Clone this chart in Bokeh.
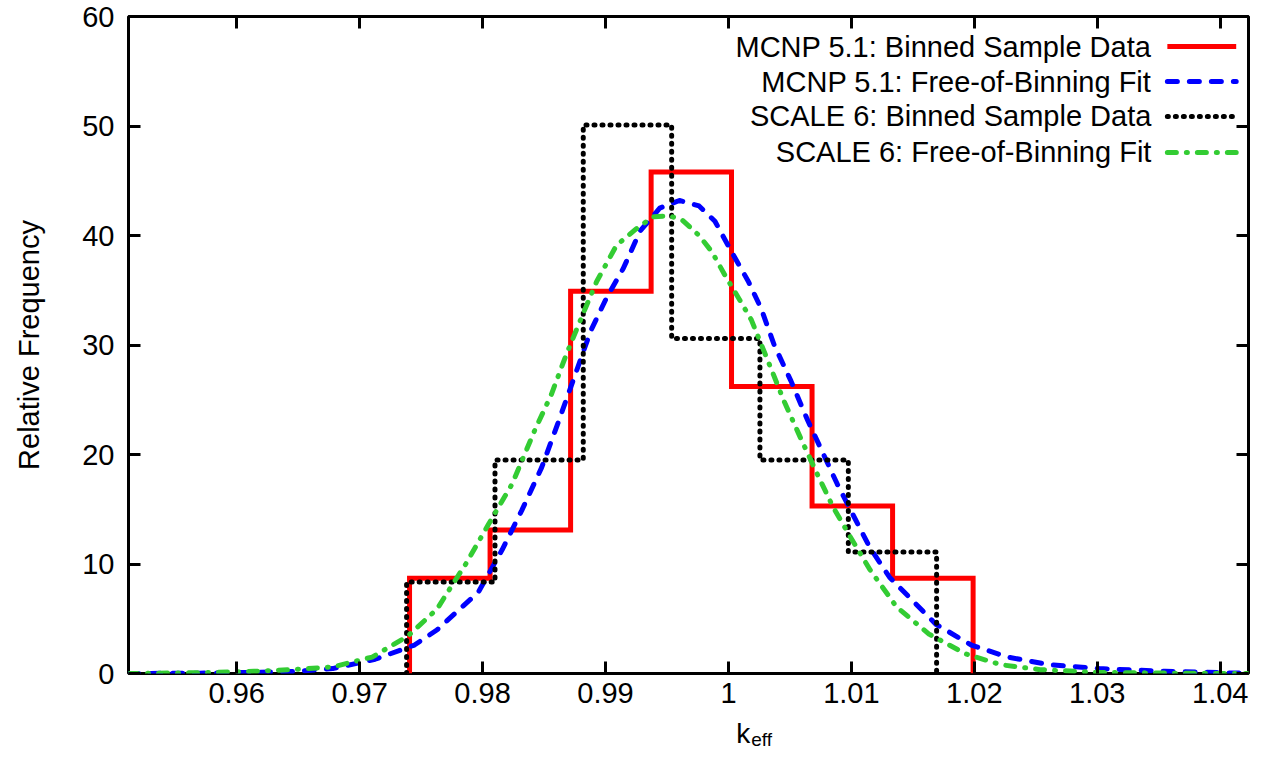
from bokeh.plotting import figure
from bokeh.layouts import column
from bokeh.models import (LinearAxis, FixedTicker, CustomJSTickFormatter, Range1d)
from bokeh.core.properties import value
from bokeh.embed import file_html
from bokeh.resources import INLINE

# ---------------- data ----------------
x_ticks = [0.96, 0.97, 0.98, 0.99, 1.00, 1.01, 1.02, 1.03, 1.04]
y_ticks = [0, 10, 20, 30, 40, 50, 60]

# MCNP 5.1 binned sample data (histogram)
mcnp_edges = [0.97406, 0.98061, 0.98716, 0.99371, 1.00025, 1.00680, 1.01335, 1.01990]
mcnp_freq = [8.7, 13.1, 34.9, 45.8, 26.2, 15.3, 8.7]

# SCALE 6 binned sample data (histogram)
scale_edges = [0.97382, 0.98101, 0.98819, 0.99538, 1.00256, 1.00975, 1.01693]
scale_freq = [8.35, 19.5, 50.1, 30.6, 19.5, 11.1]

# MCNP 5.1 free-of-binning fit
mcnp_fit_x = [0.9512, 0.9570, 0.9614, 0.96461, 0.96781, 0.97126, 0.97446, 0.97631,
              0.97967, 0.98159, 0.98319, 0.98480, 0.98608, 0.98744, 0.98880, 0.99008,
              0.99145, 0.99281, 0.99441, 0.99601, 0.99761, 0.99890, 1.00026, 1.00162,
              1.00267, 1.00372, 1.00509, 1.00645, 1.00749, 1.00885, 1.01013, 1.01150,
              1.01310, 1.01687, 1.01975, 1.02270, 1.02615, 1.03016, 1.03553, 1.04090,
              1.0423]
mcnp_fit_y = [0.0, 0.03, 0.1, 0.18, 0.45, 1.3, 2.6, 4.0,
              7.45, 11.3, 14.9, 18.8, 22.7, 27.0, 31.3, 34.3,
              37.0, 40.4, 42.5, 43.2, 42.7, 41.3, 38.5, 35.8,
              33.3, 30.0, 26.7, 23.1, 20.6, 17.3, 14.5, 11.5,
              8.8, 4.5, 2.6, 1.5, 0.8, 0.45, 0.2, 0.05,
              0.03]

# SCALE 6 free-of-binning fit
scale_fit_x = [0.9512, 0.9570, 0.96140, 0.96461, 0.96781, 0.97102, 0.97390, 0.97631,
               0.97703, 0.97863, 0.98047, 0.98240, 0.98424, 0.98560, 0.98680, 0.98808,
               0.98928, 0.99089, 0.99249, 0.99385, 0.99521, 0.99625, 0.99761, 0.99866,
               0.99970, 1.00082, 1.00186, 1.00323, 1.00451, 1.00587, 1.00723, 1.00851,
               1.00990, 1.01150, 1.01366, 1.01631, 1.01927, 1.02216, 1.02536, 1.03016,
               1.0371, 1.0423]
scale_fit_y = [0.0, 0.08, 0.2, 0.36, 0.6, 1.5, 3.4, 5.9,
               7.2, 10.0, 13.6, 17.3, 22.2, 25.5, 29.1, 32.6,
               35.8, 39.1, 40.6, 41.7, 41.8, 41.4, 40.0, 38.5,
               36.4, 34.3, 32.3, 28.5, 24.9, 21.5, 18.2, 15.2,
               12.5, 9.5, 6.1, 3.6, 1.8, 0.8, 0.35, 0.1,
               0.02, 0.0]

legend_labels = ["MCNP 5.1: Binned Sample Data",
                 "MCNP 5.1: Free-of-Binning Fit",
                 "SCALE 6: Binned Sample Data",
                 "SCALE 6: Free-of-Binning Fit"]

# ---------------- helpers ----------------
def steps(edges, freq):
    xs = [edges[0]]
    ys = [0.0]
    for i, f in enumerate(freq):
        xs += [edges[i], edges[i + 1]]
        ys += [f, f]
    xs.append(edges[-1])
    ys.append(0.0)
    return xs, ys

FONT = "Liberation Sans"
FS = "29px"
DOT = "1 7"
DASH = "10 12"
DASHDOT = "9 10 1 10"

W = 1250
H_MAIN = 716
H_LABEL = 34

p = figure(width=W, height=H_MAIN,
           x_range=Range1d(0.9512, 1.0423), y_range=Range1d(0, 60),
           output_backend="svg", toolbar_location=None,
           min_border_left=128, min_border_right=2,
           min_border_top=16, min_border_bottom=43)

p.xaxis.visible = False
p.yaxis.visible = False
p.grid.visible = False
p.outline_line_color = "black"
p.outline_line_width = 3
p.background_fill_color = "white"
p.border_fill_color = "white"

xfmt = CustomJSTickFormatter(code="return Number(tick.toFixed(4)).toString();")
blank = CustomJSTickFormatter(code="return '';")

def style_axis(ax, labels=True):
    ax.axis_line_color = None
    ax.major_tick_in = 12
    ax.major_tick_out = 0
    ax.major_tick_line_width = 3
    ax.major_tick_line_color = "black"
    ax.minor_tick_line_color = None
    ax.major_label_text_font = FONT
    ax.major_label_text_font_size = FS
    ax.major_label_text_color = "black"
    if not labels:
        ax.major_label_text_font_size = "1px"
        ax.major_label_standoff = 0

bottom = LinearAxis(ticker=FixedTicker(ticks=x_ticks), formatter=xfmt)
style_axis(bottom)
bottom.major_label_standoff = 9
p.add_layout(bottom, "below")

top = LinearAxis(ticker=FixedTicker(ticks=x_ticks), formatter=blank)
style_axis(top, labels=False)
p.add_layout(top, "above")

left = LinearAxis(ticker=FixedTicker(ticks=y_ticks), axis_label="Relative Frequency")
style_axis(left)
left.major_label_standoff = 14
left.axis_label_text_font = FONT
left.axis_label_text_font_size = FS
left.axis_label_text_font_style = "normal"
left.axis_label_text_color = "black"
left.axis_label_standoff = 34
p.add_layout(left, "left")

right = LinearAxis(ticker=FixedTicker(ticks=y_ticks), formatter=blank)
style_axis(right, labels=False)
p.add_layout(right, "right")

# ---------------- series ----------------
rx, ry = steps(mcnp_edges, mcnp_freq)
p.line(rx, ry, line_color="#ff0000", line_width=5, line_join="miter")

p.line(mcnp_fit_x, mcnp_fit_y, line_color="#0000ff", line_width=5,
       line_dash=DASH, line_cap="round", line_join="round")

bx, by = steps(scale_edges, scale_freq)
p.line(bx, by, line_color="black", line_width=5, line_dash=DOT,
       line_cap="round", line_join="round")

p.line(scale_fit_x, scale_fit_y, line_color="#33cc33", line_width=5,
       line_dash=DASHDOT, line_cap="round", line_join="round")

# ---------------- legend (gnuplot style: text left, sample right) ----------------
leg_text_x = 1.0344
leg_x0, leg_x1 = 1.0357, 1.0413
leg_y = [57.25, 54.06, 50.87, 47.59]

p.text(x=[leg_text_x] * 4, y=leg_y, text=legend_labels,
       text_font=value(FONT), text_font_size=FS, text_align="right",
       text_baseline="middle", text_color="black")

p.segment(x0=[leg_x0], y0=[leg_y[0]], x1=[leg_x1], y1=[leg_y[0]],
          line_color="#ff0000", line_width=5)
p.segment(x0=[leg_x0], y0=[leg_y[1]], x1=[leg_x1], y1=[leg_y[1]],
          line_color="#0000ff", line_width=5, line_dash=DASH, line_cap="round")
p.segment(x0=[leg_x0], y0=[leg_y[2]], x1=[leg_x1], y1=[leg_y[2]],
          line_color="black", line_width=5, line_dash=DOT, line_cap="round")
p.segment(x0=[leg_x0], y0=[leg_y[3]], x1=[leg_x1], y1=[leg_y[3]],
          line_color="#33cc33", line_width=5, line_dash=DASHDOT, line_cap="round")

# ---------------- x axis title k_eff (strip below the plot) ----------------
q = figure(width=W, height=H_LABEL, x_range=Range1d(0, W), y_range=Range1d(0, H_LABEL),
           output_backend="svg", toolbar_location=None, min_border=0)
q.xaxis.visible = False
q.yaxis.visible = False
q.grid.visible = False
q.outline_line_color = None
q.background_fill_color = "white"
q.border_fill_color = "white"
q.text(x=[694], y=[17], text=["k"], text_font=value(FONT), text_font_size="28px",
       text_align="right", text_baseline="middle", text_color="black")
q.text(x=[695], y=[11], text=["eff"], text_font=value(FONT), text_font_size="19px",
       text_align="left", text_baseline="middle", text_color="black")

layout = column(p, q, spacing=0)
open("out.html", "w").write(file_html(layout, INLINE))
